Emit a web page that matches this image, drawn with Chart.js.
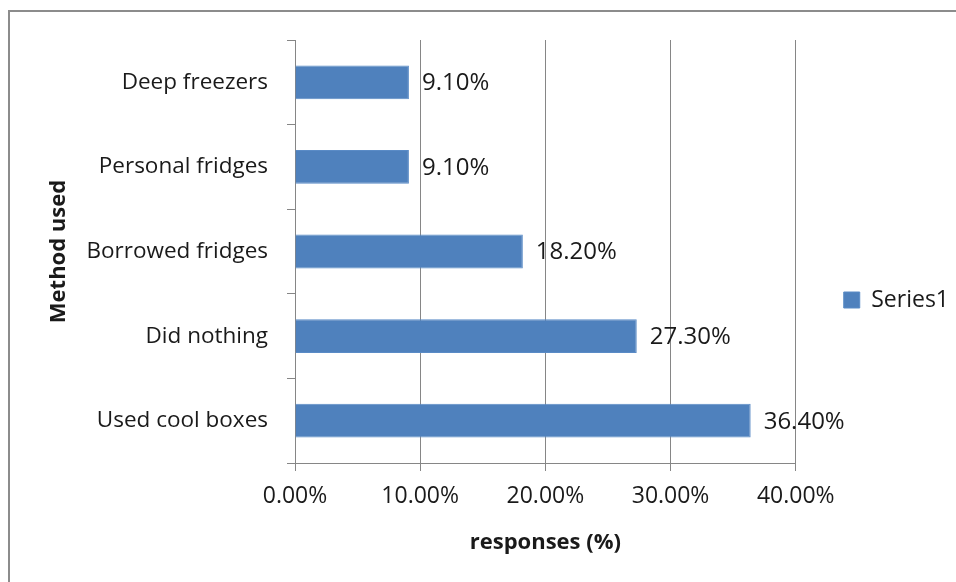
<!DOCTYPE html>
<html>
<head>
<meta charset="utf-8">
<script src="https://cdn.jsdelivr.net/npm/chart.js@4"></script>
<style>
  html, body { margin: 0; padding: 0; background: #fff; }
  #wrap { position: relative; width: 956px; height: 582px; overflow: hidden; }
  #frame {
    position: absolute; left: 8px; top: 10px; width: 1000px; height: 1000px;
    border-left: 2px solid #8c8c8c; border-top: 2px solid #8c8c8c;
    pointer-events: none;
  }
</style>
</head>
<body>
<div id="wrap">
  <div id="frame"></div>
  <canvas id="methodChart"></canvas>
</div>
<script>
  const methods = [
    'Deep freezers',
    'Personal fridges',
    'Borrowed fridges',
    'Did nothing',
    'Used cool boxes'
  ];
  const series1 = [9.1, 9.1, 18.2, 27.3, 36.4];
  const xTicks = [0, 10, 20, 30, 40];

  const gray = '#868686';
  const fontName = "'Open Sans', 'DejaVu Sans', sans-serif";

  // puts the "9.10%" style labels just after each bar
  const barLabels = {
    id: 'barLabels',
    afterDatasetsDraw(chart) {
      const ctx = chart.ctx;
      const meta = chart.getDatasetMeta(0);
      ctx.save();
      ctx.font = '24px ' + fontName;
      ctx.fillStyle = '#1a1a1a';
      ctx.textAlign = 'left';
      ctx.textBaseline = 'middle';
      meta.data.forEach((bar, i) => {
        ctx.fillText(series1[i].toFixed(2) + '%', bar.x + 13, bar.y + 1);
      });
      ctx.restore();
    }
  };

  const dataMethod = {
    labels: methods,
    datasets: [{
      label: 'Series1',
      data: series1,
      backgroundColor: '#4F81BD',
      borderColor: '#5A8BC6',
      borderWidth: 1,
      barPercentage: 0.4,
      categoryPercentage: 1
    }]
  };

  const configMethod = {
    type: 'bar',
    data: dataMethod,
    plugins: [barLabels],
    options: {
      indexAxis: 'y',
      responsive: true,
      maintainAspectRatio: false,
      animation: false,
      layout: {
        padding: { top: 40, left: 42, right: -3, bottom: 22 }
      },
      plugins: {
        legend: {
          position: 'right',
          labels: {
            boxWidth: 16,
            boxHeight: 16,
            padding: 48,
            color: '#1a1a1a',
            font: { family: fontName, size: 23 }
          }
        },
        tooltip: { enabled: false }
      },
      scales: {
        x: {
          min: 0,
          max: 40,
          afterBuildTicks: (scale) => {
            scale.ticks = xTicks.map(v => ({ value: v }));
          },
          afterFit: (scale) => { scale.height = 97; },
          grid: {
            color: gray,
            lineWidth: 1,
            tickLength: 8
          },
          border: { color: gray, width: 1 },
          ticks: {
            padding: 12,
            color: '#1a1a1a',
            font: { family: fontName, size: 23 },
            callback: (v) => Number(v).toFixed(2) + '%'
          },
          title: {
            display: true,
            text: 'responses (%)',
            color: '#1a1a1a',
            font: { family: fontName, size: 22, weight: 'bold' }
          }
        },
        y: {
          afterFit: (scale) => { scale.width = 295 - 42; },
          grid: {
            drawOnChartArea: false,
            color: gray,
            tickLength: 8
          },
          border: { color: gray, width: 1 },
          ticks: {
            padding: 19,
            color: '#1a1a1a',
            font: { family: fontName, size: 22.5 }
          },
          title: {
            display: true,
            text: 'Method used',
            color: '#1a1a1a',
            font: { family: fontName, size: 22, weight: 'bold' }
          }
        }
      }
    }
  };

  const methodChart = new Chart(
    document.getElementById('methodChart'),
    configMethod
  );
</script>
</body>
</html>
